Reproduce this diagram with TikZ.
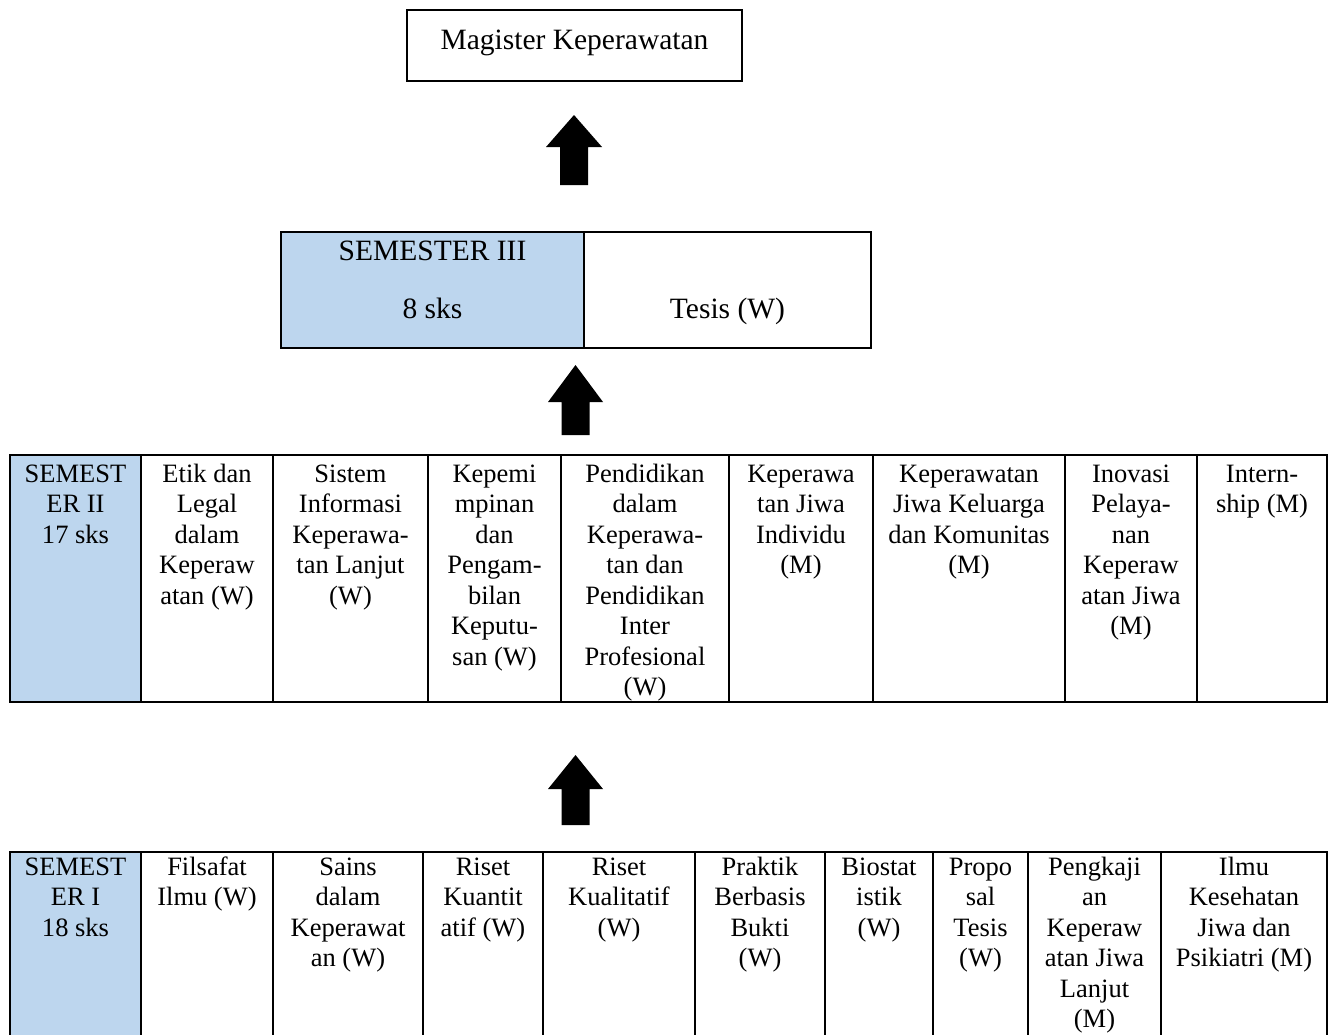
\documentclass[tikz,border=0pt]{standalone}
\usepackage{fontspec}
\setmainfont{Liberation Serif}
\definecolor{semblue}{RGB}{189,214,238}

% one table cell: name, x-left, x-right, top, bottom, fill, first baseline, text
\newcommand\mkcell[8]{%
  \node[tabcell, fill=#6, minimum width={(#3-#2)*1pt}, minimum height={(#5-#4)*1pt},
        anchor=north west] (#1) at (#2,#4) {};
  \node[txt] (#1-t) at ({(#2+#3)/2},{#7-20}) {\rule{0pt}{20pt}#8};
}
% upward block arrow: name, centre x, tip y, head base y, bottom y, half head width, half shaft width
\newcommand\mkuparrow[7]{%
  \coordinate (#1) at (#2,#3);
  \fill[blockarrow] (#1) -- ({#2+#6},#4) -- ({#2+#7},#4) -- ({#2+#7},#5)
        -- ({#2-#7},#5) -- ({#2-#7},#4) -- ({#2-#6},#4) -- cycle;
}

\begin{document}
\begin{tikzpicture}[x=1pt,y=-1pt,
  txt/.style={font=\fontsize{26.5}{30.5}\selectfont, align=center, inner sep=0pt, anchor=north},
  bigtxt/.style={txt, font=\fontsize{29.5}{33}\selectfont},
  tabcell/.style={draw=black, line width=2.6pt, inner sep=0pt, outer sep=0pt},
  boxcell/.style={draw=black, line width=2pt, inner sep=0pt, outer sep=0pt},
  blockarrow/.style={fill=black}]

\clip (0,0) rectangle (1335,1034);
\fill[white] (0,0) rectangle (1335,1034);

% goal box
\node[boxcell, fill=white, minimum width=335pt, minimum height=71pt, anchor=north west] (goal) at (407,10) {};
\node[bigtxt] (goal-t) at (574.5,29) {\rule{0pt}{20pt}Magister Keperawatan};

\mkuparrow{arrA}{574}{115}{147}{185}{28}{14}

% semester III
\node[boxcell, fill=semblue, minimum width=303pt, minimum height=116pt, anchor=north west] (s3) at (281,232) {};
\node[boxcell, fill=white, minimum width=287pt, minimum height=116pt, anchor=north west] (s3b) at (584,232) {};
\node[bigtxt] (s3-t) at (432.5,240) {\rule{0pt}{20pt}SEMESTER III};
\node[bigtxt] (s3-s) at (432.5,298) {\rule{0pt}{20pt}8 sks};
\node[bigtxt] (s3b-t) at (727.5,298) {\rule{0pt}{20pt}Tesis (W)};

\mkuparrow{arrB}{575.5}{365}{402}{435}{27.5}{14}

% semester II
\mkcell{b0}{10}{141}{455}{702}{semblue}{482}{SEMEST\\ER II\\17 sks}
\mkcell{b1}{141}{273}{455}{702}{white}{482}{Etik dan\\Legal\\dalam\\Keperaw\\atan (W)}
\mkcell{b2}{273}{428}{455}{702}{white}{482}{Sistem\\Informasi\\Keperawa-\\tan Lanjut\\(W)}
\mkcell{b3}{428}{561}{455}{702}{white}{482}{Kepemi\\mpinan\\dan\\Pengam-\\bilan\\Keputu-\\san (W)}
\mkcell{b4}{561}{729}{455}{702}{white}{482}{Pendidikan\\dalam\\Keperawa-\\tan dan\\Pendidikan\\Inter\\Profesional\\(W)}
\mkcell{b5}{729}{873}{455}{702}{white}{482}{Keperawa\\tan Jiwa\\Individu\\(M)}
\mkcell{b6}{873}{1065}{455}{702}{white}{482}{Keperawatan\\Jiwa Keluarga\\dan Komunitas\\(M)}
\mkcell{b7}{1065}{1197}{455}{702}{white}{482}{Inovasi\\Pelaya-\\nan\\Keperaw\\atan Jiwa\\(M)}
\mkcell{b8}{1197}{1327}{455}{702}{white}{482}{Intern-\\ship (M)}

\mkuparrow{arrC}{575.5}{755}{789}{825}{27.5}{14}

% semester I (runs past the lower edge)
\mkcell{a0}{10}{141}{852}{1050}{semblue}{875}{SEMEST\\ER I\\18 sks}
\mkcell{a1}{141}{273}{852}{1050}{white}{875}{Filsafat\\Ilmu (W)}
\mkcell{a2}{273}{423}{852}{1050}{white}{875}{Sains\\dalam\\Keperawat\\an (W)}
\mkcell{a3}{423}{543}{852}{1050}{white}{875}{Riset\\Kuantit\\atif (W)}
\mkcell{a4}{543}{695}{852}{1050}{white}{875}{Riset\\Kualitatif\\(W)}
\mkcell{a5}{695}{825}{852}{1050}{white}{875}{Praktik\\Berbasis\\Bukti\\(W)}
\mkcell{a6}{825}{933}{852}{1050}{white}{875}{Biostat\\istik\\(W)}
\mkcell{a7}{933}{1028}{852}{1050}{white}{875}{Propo\\sal\\Tesis\\(W)}
\mkcell{a8}{1028}{1161}{852}{1050}{white}{875}{Pengkaji\\an\\Keperaw\\atan Jiwa\\Lanjut\\(M)}
\mkcell{a9}{1161}{1327}{852}{1050}{white}{875}{Ilmu\\Kesehatan\\Jiwa dan\\Psikiatri (M)}

\end{tikzpicture}
\end{document}
